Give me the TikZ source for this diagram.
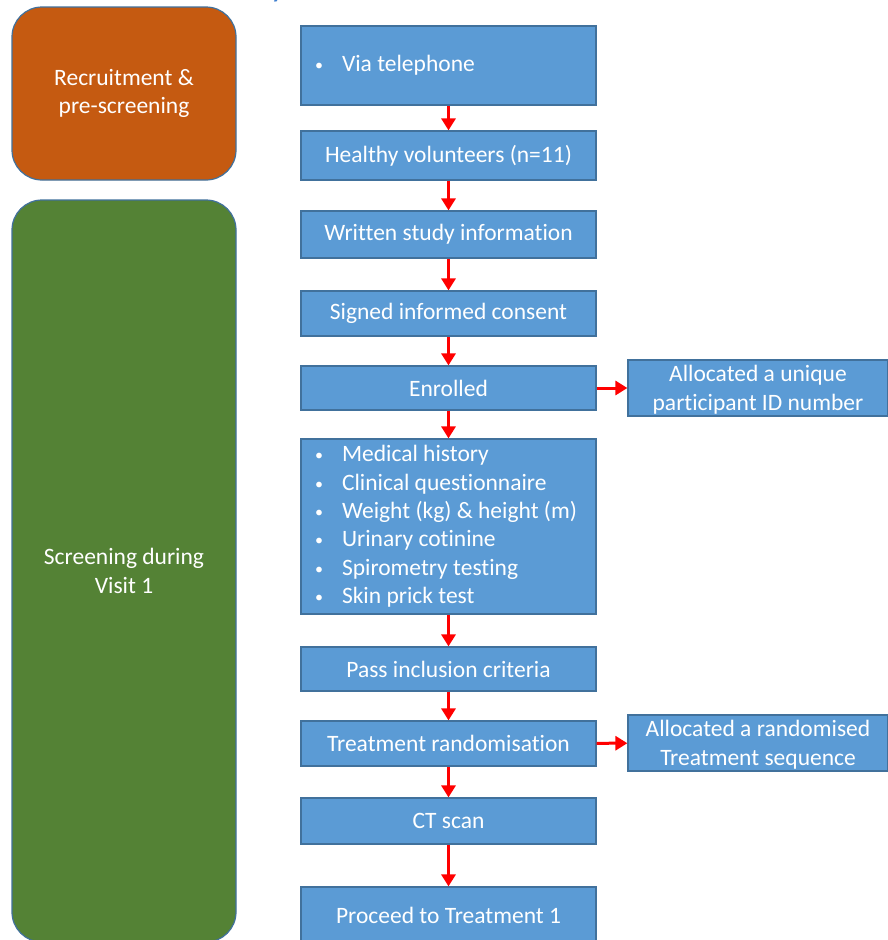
\documentclass[tikz,border=0pt]{standalone}
\usepackage{fontspec}
\setmainfont{Carlito}[Ligatures={NoCommon}]
\usetikzlibrary{arrows.meta}
\definecolor{boxblue}{HTML}{5B9BD5}
\definecolor{boxedge}{HTML}{41719C}
\definecolor{recorange}{HTML}{C55A11}
\definecolor{scrgreen}{HTML}{548235}
\definecolor{arrred}{HTML}{FF0000}
\definecolor{titleblue}{HTML}{3F7FCF}
\newcommand{\bul}[1]{\makebox[27pt][l]{\raisebox{1pt}{\fontsize{16}{16}\selectfont\textbullet}}#1}
\tikzset{
  x=1pt, y=-1pt,
  every node/.style={font=\fontsize{23.5}{28.4}\selectfont, text=white},
  flowbox/.style={draw=boxedge, line width=1.2pt, fill=boxblue, minimum width=295pt, inner sep=0pt, align=center},
  sidebox/.style={draw=boxedge, line width=1.2pt, fill=boxblue, minimum width=260pt, minimum height=56pt, inner sep=0pt, align=center, text depth=0pt},
  phase/.style={draw=boxedge, line width=1.2pt, rounded corners=30pt, minimum width=224pt, inner sep=0pt, align=center},
  listbox/.style={flowbox, align=flush left, text width=267pt, inner xsep=14pt, inner ysep=0pt},
  flowarrow/.style={draw=arrred, line width=3pt, -{Triangle[length=12pt,width=14pt]}}
}
\begin{document}
\begin{tikzpicture}
\useasboundingbox (0,0) rectangle (888,940);
\clip (0,0) rectangle (888,940);
\fill[white] (0,0) rectangle (888,940);
% cut-off title fragment
\node[anchor=base, text=titleblue, font=\fontsize{34}{34}\selectfont, inner sep=0pt] (ttl) at (278,-4) {y};
% phases
\node[phase, fill=recorange, minimum height=173pt] (rec) at (124,93.5) {Recruitment \&\\pre-screening};
\node[phase, fill=scrgreen, minimum height=742pt] (scr) at (124,571) {Screening during\\Visit 1};
% main flow
\node[listbox, minimum height=79pt] (tel) at (448.5,65.5) {\bul{Via telephone}};
\node[flowbox, minimum height=49pt] (hv) at (448.5,155.5) {Healthy volunteers (n=11)};
\node[flowbox, minimum height=47pt] (wsi) at (448.5,234.5) {Written study information};
\node[flowbox, minimum height=45pt] (sic) at (448.5,313.5) {Signed informed consent};
\node[flowbox, minimum height=44pt] (enr) at (448.5,388) {Enrolled};
\node[listbox, minimum height=175pt] (med) at (448.5,526.5) {\bul{Medical history}\\\bul{Clinical questionnaire}\\\bul{Weight (kg) \& height (m)}\\\bul{Urinary cotinine}\\\bul{Spirometry testing}\\\bul{Skin prick test}};
\node[flowbox, minimum height=44pt] (pass) at (448.5,669) {Pass inclusion criteria};
\node[flowbox, minimum height=45pt] (tr) at (448.5,743.5) {Treatment randomisation};
\node[flowbox, minimum height=46pt] (ct) at (448.5,821) {CT scan};
\node[flowbox, minimum height=56pt] (proc) at (448.5,915) {Proceed to Treatment 1};
% side boxes
\node[sidebox] (id) at (758,388) {Allocated a unique\\participant ID number};
\node[sidebox] (seq) at (758,743) {Allocated a randomised\\Treatment sequence};
% arrows
\draw[flowarrow] (tel) -- (hv);
\draw[flowarrow] (hv) -- (wsi);
\draw[flowarrow] (wsi) -- (sic);
\draw[flowarrow] (sic) -- (enr);
\draw[flowarrow] (enr) -- (med);
\draw[flowarrow] (med) -- (pass);
\draw[flowarrow] (pass) -- (tr);
\draw[flowarrow] (tr) -- (ct);
\draw[flowarrow] (ct) -- (proc);
\draw[flowarrow] (enr) -- (id);
\draw[flowarrow] (tr) -- (seq);
\end{tikzpicture}
\end{document}
